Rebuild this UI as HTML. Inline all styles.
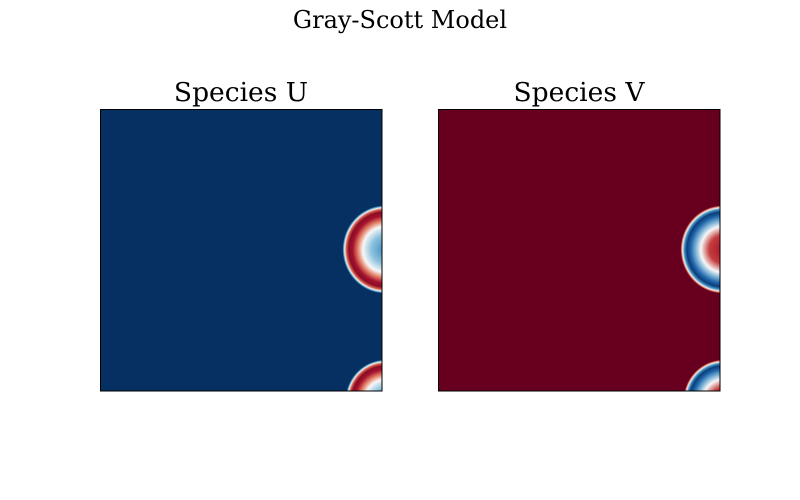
<!DOCTYPE html>
<html><head><meta charset="utf-8"><style>
html,body{margin:0;padding:0;background:#fff;width:800px;height:500px;overflow:hidden}
</style></head><body>
<svg id="fig" width="800" height="500" viewBox="0 0 800 500" xmlns="http://www.w3.org/2000/svg" font-family="DejaVu Serif, Liberation Serif, serif">
<defs>
<radialGradient id="gU">
<stop offset="0" stop-color="#3f8dc4"/>
<stop offset="0.32" stop-color="#8ec2dd"/>
<stop offset="0.52" stop-color="#f7f7f7"/>
<stop offset="0.64" stop-color="#e48066"/>
<stop offset="0.76" stop-color="#a5122d"/>
<stop offset="0.85" stop-color="#8a0b25"/>
<stop offset="0.91" stop-color="#d6604d"/>
<stop offset="0.95" stop-color="#f2f2f2"/>
<stop offset="0.98" stop-color="#4393c3"/>
<stop offset="1" stop-color="#053061"/>
</radialGradient>
<radialGradient id="gV">
<stop offset="0" stop-color="#a8142c"/>
<stop offset="0.32" stop-color="#c43c3c"/>
<stop offset="0.52" stop-color="#f7f7f7"/>
<stop offset="0.64" stop-color="#7fb4d6"/>
<stop offset="0.76" stop-color="#2166ac"/>
<stop offset="0.85" stop-color="#0b3d7a"/>
<stop offset="0.91" stop-color="#4393c3"/>
<stop offset="0.95" stop-color="#f2f2f2"/>
<stop offset="0.98" stop-color="#d6604d"/>
<stop offset="1" stop-color="#67001f"/>
</radialGradient>
<clipPath id="cU"><rect x="100" y="109" width="282" height="282"/></clipPath>
<clipPath id="cV"><rect x="438" y="109" width="282" height="282"/></clipPath>
</defs>
<text x="400" y="28" font-size="24" text-anchor="middle">Gray-Scott Model</text>
<text x="241" y="101" font-size="26.5" text-anchor="middle">Species U</text>
<text x="579" y="101" font-size="26.5" text-anchor="middle">Species V</text>
<g id="panelU" clip-path="url(#cU)"><rect x="100" y="109" width="282" height="282" fill="#053061"/></g>
<g id="panelV" clip-path="url(#cV)"><rect x="438" y="109" width="282" height="282" fill="#67001f"/></g>
<rect x="100.5" y="109.5" width="281.5" height="281.5" fill="none" stroke="#000" stroke-width="1"/>
<rect x="438.5" y="109.5" width="281.5" height="281.5" fill="none" stroke="#000" stroke-width="1"/>
</svg>
<script>
// blob data in grid coordinates (grid 0..100 on each axis)
const blobX = [101, 101.2];
const blobY = [49.8, 103.5];
const blobRX = [15, 14.2];
const blobRY = [15.6, 14.6];
const NS = 'http://www.w3.org/2000/svg';
function xScale(v, x0){ return x0 + v / 100 * 282; }
function yScale(v){ return 109 + v / 100 * 282; }
function drawPanel(id, x0, grad, label){
  const g = document.getElementById(id);
  for (let i = 0; i < blobX.length; i++){
    const e = document.createElementNS(NS, 'ellipse');
    
    
    e.setAttribute('cx', xScale(blobX[i], x0));
    e.setAttribute('cy', yScale(blobY[i]));
    e.setAttribute('rx', blobRX[i] / 100 * 282);
    e.setAttribute('ry', blobRY[i] / 100 * 282);
    e.setAttribute('fill', 'url(#' + grad + ')');
    g.appendChild(e);
  }
}
drawPanel('panelU', 100, 'gU', 'species-u');
drawPanel('panelV', 438, 'gV', 'species-v');
</script>
</body></html>
